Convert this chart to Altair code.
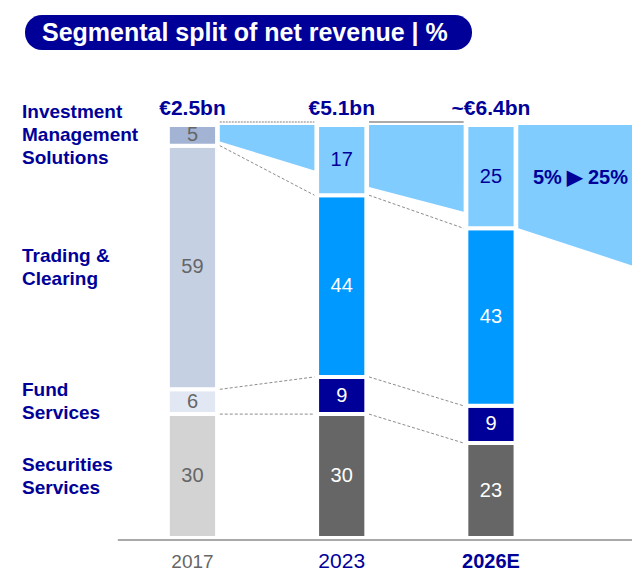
import altair as alt
import pandas as pd

# ---------------- data ----------------
years = ["2017", "2023", "2026E"]
totals = ["€2.5bn", "€5.1bn", "~€6.4bn"]
segments = ["Securities Services", "Fund Services", "Trading & Clearing",
            "Investment Management Solutions"]          # bottom -> top
segment_labels = ["Securities\nServices", "Fund\nServices", "Trading &\nClearing",
                  "Investment\nManagement\nSolutions"]
securities = [30, 30, 23]
fund = [6, 9, 9]
trading = [59, 44, 43]
ims = [5, 17, 25]
band_left = [96, 85, 75]     # lower edge of the growth band at left of each piece (%)
band_right = [89, 79, 66]    # lower edge of the growth band at right of each piece (%)
growth_text = "5% ▶ 25%"
title_text = "Segmental split of net revenue | %"

# ---------------- styles ----------------
FONT = "Liberation Sans"
NAVY = "#000099"
fills_old = ["#d3d3d3", "#e1e7f3", "#c5d0e3", "#a3b3d3"]
fills_new = ["#666666", "#000099", "#0099ff", "#80ccff"]
text_old = ["#666666"] * 4
text_new = ["white", "white", "white", NAVY]
BAND = "#80ccff"

W, H = 624, 563
XMIN, XMAX = -1.236, 2.945
YMIN, YMAX = -7.99, 128.33
PX_PER_UNIT = H / (YMAX - YMIN)
half, gap = 0.165, 0.018
LINE_H = 23

xs = alt.Scale(domain=[XMIN, XMAX], nice=False, zero=False)
ys = alt.Scale(domain=[YMIN, YMAX], nice=False, zero=False)

stack = [securities, fund, trading, ims]
idx = list(range(len(years)))

seg_rows = []
levels = []
for i in idx:
    base = 0
    lv = []
    for s, seg in enumerate(segments):
        v = stack[s][i]
        seg_rows.append(dict(i=i, seg=seg, lo=base, hi=base + v, mid=base + v / 2,
                             val=str(v), x0=i - half, x1=i + half,
                             fill=(fills_old if i == 0 else fills_new)[s],
                             tc=(text_old if i == 0 else text_new)[s]))
        base += v
        lv.append(base)
    levels.append(lv[:3])
seg_df = pd.DataFrame(seg_rows)

# connectors between bars
con_rows = []
for i in idx[:-1]:
    for k in range(3):
        con_rows.append(dict(x=i + half + gap, x2=i + 1 - half - gap,
                             y=levels[i][k], y2=levels[i + 1][k]))
con_df = pd.DataFrame(con_rows)

# growth band
band_rows = []
for k in idx:
    xl = k + half + gap
    xr = (k + 1 - half - gap) if k < len(idx) - 1 else XMAX
    band_rows.append(dict(piece=k, x=xl, top=100, bot=band_left[k]))
    band_rows.append(dict(piece=k, x=xr, top=100, bot=band_right[k]))
band_df = pd.DataFrame(band_rows)

X = lambda f: alt.X(f, scale=xs, axis=None)
Y = lambda f: alt.Y(f, scale=ys, axis=None)

band = alt.Chart(band_df).mark_area(color=BAND, opacity=1).encode(
    x=X("x:Q"), y=Y("top:Q"), y2="bot:Q", detail="piece:N")

connectors = alt.Chart(con_df).mark_rule(color="#8c8c8c", strokeWidth=1,
                                         strokeDash=[3, 2]).encode(
    x=X("x:Q"), x2="x2:Q", y=Y("y:Q"), y2="y2:Q")

top_df = pd.DataFrame(dict(x=[i + half + gap for i in idx[:-1]],
                           x2=[i + 1 - half - gap for i in idx[:-1]],
                           y=[100.7] * (len(idx) - 1)))
top_dot = alt.Chart(top_df.iloc[[0]]).mark_rule(color="#aaaaaa", strokeWidth=1.5,
                                                 strokeDash=[2, 1]).encode(
    x=X("x:Q"), x2="x2:Q", y=Y("y:Q"))
top_solid = alt.Chart(top_df.iloc[[1]]).mark_rule(color="#aaaaaa", strokeWidth=2).encode(
    x=X("x:Q"), x2="x2:Q", y=Y("y:Q"))

bars = alt.Chart(seg_df).mark_rect(stroke="white", strokeWidth=4).encode(
    x=X("x0:Q"), x2="x1:Q", y=Y("lo:Q"), y2="hi:Q",
    fill=alt.Fill("fill:N", scale=None))

values = alt.Chart(seg_df).mark_text(font=FONT, fontSize=20, baseline="middle").encode(
    x=X("i:Q"), y=Y("mid:Q"), text="val:N", color=alt.Color("tc:N", scale=None))

tot_df = pd.DataFrame(dict(i=idx, t=totals, y=[100] * len(idx)))
tot = alt.Chart(tot_df).mark_text(font=FONT, fontSize=21, fontWeight="bold", color=NAVY,
                                  baseline="alphabetic", dy=-10).encode(
    x=X("i:Q"), y=Y("y:Q"), text="t:N")

year_styles = [dict(fontSize=19, fontWeight="normal", color="#666666"),
               dict(fontSize=21, fontWeight="normal", color=NAVY),
               dict(fontSize=20, fontWeight="bold", color=NAVY)]
year_layers = []
for i in idx:
    d = pd.DataFrame(dict(i=[i], t=[years[i]], y=[0]))
    year_layers.append(alt.Chart(d).mark_text(font=FONT, baseline="alphabetic", dy=30,
                                              **year_styles[i]).encode(
        x=X("i:Q"), y=Y("y:Q"), text="t:N"))

axis_df = pd.DataFrame(dict(x=[-0.5], x2=[XMAX], y=[-0.5]))
axis_line = alt.Chart(axis_df).mark_rule(color="#8c8c8c", strokeWidth=1.5).encode(
    x=X("x:Q"), x2="x2:Q", y=Y("y:Q"))

# segment names, centred on the 2017 segments (first line is placed at y, so shift up)
mids_2017 = [r["mid"] for r in seg_rows if r["i"] == 0]
lab_y = [m + (t.count("\n")) / 2 * LINE_H / PX_PER_UNIT
         for m, t in zip(mids_2017, segment_labels)]
lab_df = pd.DataFrame(dict(t=segment_labels, y=lab_y))
labels = alt.Chart(lab_df).mark_text(font=FONT, fontSize=19, fontWeight="bold", color=NAVY,
                                     align="left", baseline="middle", lineBreak="\n",
                                     lineHeight=LINE_H).encode(
    x=alt.value(14), y=Y("y:Q"), text="t:N")

growth_df = pd.DataFrame(dict(x=[len(idx) - 1 + 0.6], y=[87.2], t=[growth_text]))
growth = alt.Chart(growth_df).mark_text(font=FONT, fontSize=20, fontWeight="bold",
                                        color=NAVY, baseline="middle").encode(
    x=X("x:Q"), y=Y("y:Q"), text="t:N")

title_df = pd.DataFrame(dict(t=[title_text]))
pill = alt.Chart(title_df).mark_rect(color=NAVY, cornerRadius=17).encode(
    x=alt.value(17), x2=alt.value(464), y=alt.value(7), y2=alt.value(42))
title = alt.Chart(title_df).mark_text(font=FONT, fontSize=25, fontWeight="bold",
                                      color="white", align="left",
                                      baseline="middle").encode(
    x=alt.value(34), y=alt.value(25), text="t:N")

chart = alt.layer(
    band, connectors, top_dot, top_solid, bars, values, tot, *year_layers,
    axis_line, labels, growth, pill, title
).properties(
    width=W, height=H, padding=0,
    autosize=alt.AutoSizeParams(type="none")
).configure_view(stroke=None)

chart.save("out.html", embed_options={"renderer": "svg", "actions": False})
